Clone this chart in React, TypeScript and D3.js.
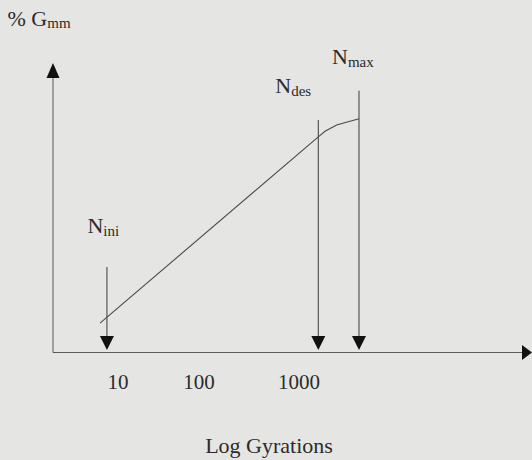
import React from 'react';
import { scaleLog, scaleLinear, line, curveLinear } from 'd3';

// tick labels on the gyration axis
const tickValues = [10, 100, 1000];
const tickLabels = ['10', '100', '1000'];

// compaction curve (gyrations, % Gmm)
const curveGyrations = [6.0, 1560, 1820, 2380, 3980];
const curveGmm = [82.1, 95.4, 95.8, 96.25, 96.7];

// gyration levels marked by arrows
const levelNames = ['ini', 'des', 'max'];
const levelGyrations = [7.3, 1560, 3980];
const levelTops = [86.1, 96.6, 98.7];

const W = 532;
const H = 460;
const FONT = '"Liberation Serif", "Times New Roman", serif';
const INK = '#2b2b2b';
const LINE = '#4a4a4a';

const App = () => {
  // the sketch's decades are not evenly spaced, so use a piecewise log scale
  const x = scaleLog().domain(tickValues).range([118, 199, 299]);
  const y = scaleLinear().domain([80, 100]).range([352.5, 72.5]);

  const x0 = 53;
  const y0 = y(80);

  const path = line<number>()
    .x((d, i) => x(curveGyrations[i]))
    .y(d => y(d))
    .curve(curveLinear)(curveGmm);

  // label placement relative to each arrow
  const labelDx = [-19.5, -43, -27];
  const labelY = [233, 93, 63.5];

  return (
    <svg width={W} height={H} style={{ position: 'fixed', top: 0, left: 0 }}>
      <rect width={W} height={H} fill="#e5e5e3" />

      {/* y axis */}
      <line x1={x0} x2={x0} y1={y0} y2={78} stroke="#5a5a5a" strokeWidth={1} />
      <path d={`M${x0},63 L${x0 + 6.5},78 L${x0 - 6.5},78 Z`} fill="#111" />

      {/* x axis */}
      <line x1={x0} x2={522} y1={y0} y2={y0} stroke="#5a5a5a" strokeWidth={1.2} />
      <path d={`M532,${y0} L522,${y0 - 7.5} L522,${y0 + 7.5} Z`} fill="#111" />

      {/* y label */}
      <text x={7.5} y={26} fontFamily={FONT} fontSize={22} fill={INK}>
        % G<tspan fontSize={15} dy={2}>mm</tspan>
      </text>

      {/* tick labels */}
      {tickValues.map((v, i) => (
        <text key={v} x={x(v)} y={389} textAnchor="middle" fontFamily={FONT} fontSize={21} fill={INK}>
          {tickLabels[i]}
        </text>
      ))}

      {/* curve */}
      <path d={path || ''} fill="none" stroke={LINE} strokeWidth={1.1} />

      {/* arrows */}
      {levelGyrations.map((g, i) => {
        const px = x(g);
        return (
          <g key={levelNames[i]}>
            <line x1={px} x2={px} y1={y(levelTops[i])} y2={337} stroke={LINE} strokeWidth={1.1} />
            <path d={`M${px - 7},336 L${px + 7},336 L${px},350 Z`} fill="#111" />
            <text x={px + labelDx[i]} y={labelY[i]} fontFamily={FONT} fontSize={22} fill={INK}>
              N<tspan fontSize={15} dy={3}>{levelNames[i]}</tspan>
            </text>
          </g>
        );
      })}

      {/* x title */}
      <text x={269} y={453} textAnchor="middle" fontFamily={FONT} fontSize={22} fill={INK}>
        Log Gyrations
      </text>
    </svg>
  );
};

export default App;
